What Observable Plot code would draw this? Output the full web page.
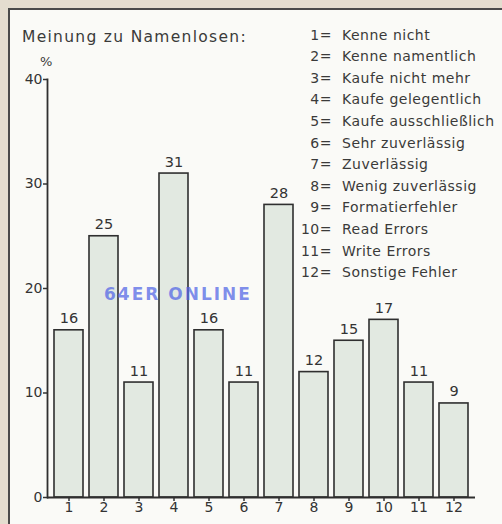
<!DOCTYPE html>
<html>
<head>
<meta charset="utf-8">
<script src="https://cdn.jsdelivr.net/npm/d3@7"></script>
<script src="https://cdn.jsdelivr.net/npm/@observablehq/plot@0.6"></script>
<style>
  body { margin: 0; background: #e4ddcf; }
  #wrap { position: relative; width: 502px; height: 524px; overflow: hidden; }
  #panel { position: absolute; left: 8px; top: 8px; width: 620px; height: 620px;
           background: #fafaf7; border-left: 2px solid #4a4a4a; border-top: 2px solid #4a4a4a; }
  #chart { position: absolute; left: 0; top: 0; }
  .t { position: absolute; font-family: "DejaVu Sans", sans-serif; color: #3a3a3a; white-space: nowrap; }
  #title { left: 22px; top: 27px; font-size: 15.5px; line-height: 20px; letter-spacing: 1.3px; }
  #pct { left: 40px; top: 52px; font-size: 13px; line-height: 20px; }
  .lg { font-size: 14px; line-height: 21.6px; letter-spacing: 0.5px; }
  .lg .n { display: inline-block; width: 40px; text-align: right; margin-right: 10px; }
  #wm { left: 104px; top: 283px; font-size: 17px; font-weight: bold; letter-spacing: 2px;
        color: rgba(80, 100, 230, 0.72); line-height: 22px; }
</style>
</head>
<body>
<div id="wrap">
  <div id="panel"></div>
  <div id="chart"></div>
  <div class="t" id="title">Meinung zu Namenlosen:</div>
  <div class="t" id="pct">%</div>
  <div class="t" id="wm">64ER ONLINE</div>
  <div id="legend"></div>
</div>
<script>
const categories = [1, 2, 3, 4, 5, 6, 7, 8, 9, 10, 11, 12];
const values = [16, 25, 11, 31, 16, 11, 28, 12, 15, 17, 11, 9];
const legendLabels = [
  "Kenne nicht", "Kenne namentlich", "Kaufe nicht mehr", "Kaufe gelegentlich",
  "Kaufe ausschließlich", "Sehr zuverlässig", "Zuverlässig", "Wenig zuverlässig",
  "Formatierfehler", "Read Errors", "Write Errors", "Sonstige Fehler"
];
const yTicks = [0, 10, 20, 30, 40];

const data = categories.map((k, i) => ({k, v: values[i]}));

const chart = Plot.plot({
  width: 502,
  height: 524,
  marginLeft: 47,
  marginRight: 27,
  marginTop: 79,
  marginBottom: 27,
  style: {fontFamily: "DejaVu Sans, sans-serif", fontSize: "14px", color: "#333", background: "transparent"},
  x: {type: "band", domain: categories, paddingInner: 0.16, paddingOuter: 0.06},
  y: {domain: [0, 40]},
  marks: [
    Plot.barY(data, {x: "k", y: "v", fill: "#e2e9e1", stroke: "#2f2f2f", strokeWidth: 1.6}),
    Plot.text(data, {x: "k", y: "v", text: d => String(d.v), dy: -7, lineAnchor: "bottom", fontSize: 14.5, fill: "#333"}),
    Plot.axisY({ticks: yTicks, tickSize: 4, tickPadding: 1, label: null, tickFormat: d => String(d), stroke: "#333", strokeWidth: 1.5, fontSize: 14}),
    Plot.axisX({tickSize: 4, tickPadding: 1, label: null, stroke: "#333", strokeWidth: 1.5, fontSize: 14}),
    Plot.frame({anchor: "left", stroke: "#2f2f2f", strokeWidth: 1.8}),
    Plot.ruleY([0], {stroke: "#2f2f2f", strokeWidth: 1.8})
  ]
});
document.getElementById("chart").appendChild(chart);

const legend = document.getElementById("legend");
legendLabels.forEach((lab, i) => {
  const d = document.createElement("div");
  d.className = "t lg";
  d.style.left = "292px";
  d.style.top = (24.5 + i * 21.6) + "px";
  const n = document.createElement("span");
  n.className = "n";
  n.textContent = (i + 1) + "=";
  d.appendChild(n);
  d.appendChild(document.createTextNode(lab));
  legend.appendChild(d);
});
</script>
</body>
</html>
